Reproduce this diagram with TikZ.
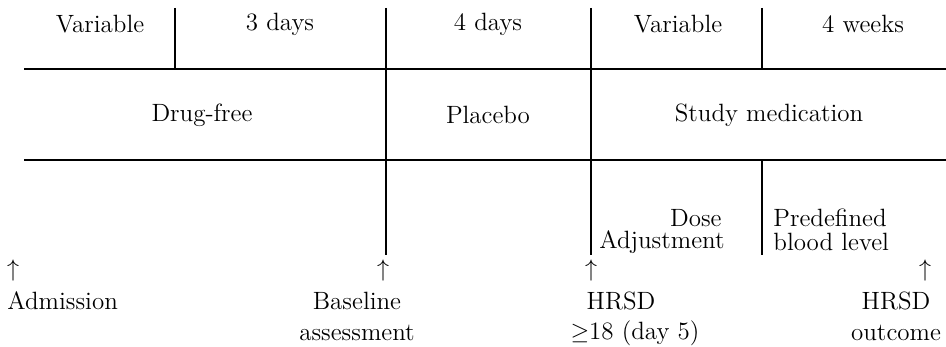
\documentclass[tikz,border=0pt]{standalone}
\begin{document}
\begin{tikzpicture}[x=0.5pt,y=-0.5pt,
  rule/.style={line width=0.8pt,black},
  lbl/.style={inner sep=0pt,font=\fontsize{12.5}{15}\selectfont},
  arr/.style={inner sep=0pt,font=\fontsize{12.5}{15}\selectfont}]
\useasboundingbox (0,0) rectangle (946,347);
% horizontal rules
\draw[rule] (24,69) -- (946,69);
\draw[rule] (24,160) -- (946,160);
% vertical rules
\draw[rule] (175,8) -- (175,69);
\draw[rule] (386,8) -- (386,255);
\draw[rule] (591,8) -- (591,255);
\draw[rule] (762,8) -- (762,69);
\draw[rule] (762,160) -- (762,255);
% top row
\node[lbl] (v1) at (100,24) {Variable};
\node[lbl] (d3) at (280,24) {3 days};
\node[lbl] (d4) at (488,24) {4 days};
\node[lbl] (v2) at (678,24) {Variable};
\node[lbl] (w4) at (863,24) {4 weeks};
% middle row
\node[lbl] (df) at (202,115) {Drug-free};
\node[lbl] (pl) at (488,115) {Placebo};
\node[lbl] (sm) at (769,115) {Study medication};
% lower cells
\node[lbl,anchor=east] (dose) at (722,218) {Dose};
\node[lbl,anchor=east] (adj) at (725,242) {Adjustment};
\node[lbl,anchor=west] (pre) at (773,218) {Predefined};
\node[lbl,anchor=west] (blood) at (773,242) {blood level};
% arrows
\node[arr] (a1) at (13,270) {$\uparrow$};
\node[arr] (a2) at (383,270) {$\uparrow$};
\node[arr] (a3) at (591,270) {$\uparrow$};
\node[arr] (a4) at (925,270) {$\uparrow$};
% bottom labels
\node[lbl,anchor=west] (adm) at (7,301) {Admission};
\node[lbl] (base) at (357,301) {Baseline};
\node[lbl] (ass) at (357,333) {assessment};
\node[lbl] (h1) at (621,301) {HRSD};
\node[lbl] (h1b) at (635,333) {$\geq$18 (day 5)};
\node[lbl] (h2) at (896,301) {HRSD};
\node[lbl] (h2b) at (896,333) {outcome};
\end{tikzpicture}
\end{document}
